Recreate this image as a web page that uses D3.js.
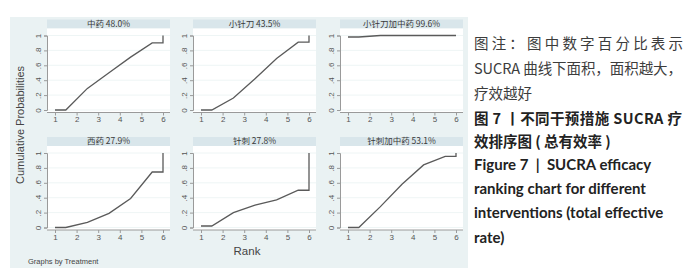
<!DOCTYPE html>
<html lang="zh">
<head>
    <meta charset="UTF-8" />
    <script src="https://d3js.org/d3.v7.min.js"></script>
    <title>SUCRA ranking chart</title>
    <style>
        body { margin: 0; background: #ffffff; }
    </style>
</head>
<body>
    <script>
        // panels, in reading order
        var treatments = ["中药", "小针刀", "小针刀加中药", "西药", "针刺", "针刺加中药"];
        var sucraLabels = ["48.0%", "43.5%", "99.6%", "27.9%", "27.8%", "53.1%"];

        // vertices of each cumulative curve (x = rank position)
        var rankX = [1, 1.5, 2.5, 3.5, 4.5, 5.5, 6, 6];
        var cumZhongyao = [0, 0, 0.29, 0.50, 0.71, 0.90, 0.90, 1];
        var cumXiaozhendao = [0, 0, 0.16, 0.42, 0.69, 0.91, 0.91, 1];
        var cumXiaozhendaoZhongyao = [0.98, 0.98, 1, 1, 1, 1, 1, 1];
        var cumXiyao = [0, 0, 0.07, 0.19, 0.39, 0.745, 0.745, 1];
        var cumZhenci = [0.02, 0.02, 0.20, 0.30, 0.37, 0.50, 0.50, 1];
        var cumZhenciZhongyao = [0, 0, 0.28, 0.58, 0.84, 0.955, 0.955, 1];
        var curves = [cumZhongyao, cumXiaozhendao, cumXiaozhendaoZhongyao, cumXiyao, cumZhenci, cumZhenciZhongyao];

        var rankTicks = [1, 2, 3, 4, 5, 6];
        var probTicks = [0, 0.2, 0.4, 0.6, 0.8, 1];
        var probLabels = ["0", ".2", ".4", ".6", ".8", "1"];

        var noteLines = ["图注：图中数字百分比表示", "SUCRA 曲线下面积，面积越大，", "疗效越好"];
        var titleZh = ["图 7 丨不同干预措施 SUCRA 疗", "效排序图 ( 总有效率 )"];
        var titleEn = ["Figure 7  |  SUCRA efficacy", "ranking chart for different", "interventions (total effective", "rate)"];

        var width = 700, height = 279;
        var latin = "'Liberation Sans', Arial, sans-serif";
        var cjk = "'Noto Sans CJK SC', sans-serif";

        var svg = d3.select("body").append("svg")
            .attr("width", width)
            .attr("height", height);

        // graph region
        svg.append("rect")
            .attr("x", 10).attr("y", 17)
            .attr("width", 458).attr("height", 251)
            .attr("fill", "#eaf2f3");

        var colLeft = [47, 193, 340];
        var rowTop = [19.5, 137];
        var plotW = 123, stripH = 9, plotH = 84;

        treatments.forEach(function (name, i) {
            var left = colLeft[i % 3];
            var top = rowTop[Math.floor(i / 3)];
            var pTop = top + stripH, pBottom = pTop + plotH;

            var x = d3.scaleLinear().domain([1, 6]).range([left + 8, left + 116]);
            var y = d3.scaleLinear().domain([0, 1]).range([pBottom - 2.5, pTop + 7]);

            var g = svg.append("g");

            // strip title
            g.append("rect")
                .attr("x", left).attr("y", top)
                .attr("width", plotW).attr("height", stripH)
                .attr("fill", "#d9e6eb");
            g.append("text")
                .attr("x", left + plotW / 2).attr("y", top + stripH / 2 + 0.5)
                .attr("text-anchor", "middle")
                .attr("dominant-baseline", "middle")
                .style("font-family", cjk)
                .style("font-size", "8.5px")
                .attr("fill", "#3a3a3a")
                .text(name + " " + sucraLabels[i]);

            // plot region
            g.append("rect")
                .attr("x", left).attr("y", pTop)
                .attr("width", plotW).attr("height", plotH)
                .attr("fill", "#ffffff");

            g.selectAll(".grid").data(probTicks).enter().append("line")
                .attr("x1", left).attr("x2", left + plotW)
                .attr("y1", function (d) { return y(d); })
                .attr("y2", function (d) { return y(d); })
                .attr("stroke", "#eaf2f3").attr("stroke-width", 0.8);

            // y axis
            var yAxis = d3.axisLeft(y).tickValues(probTicks).tickSize(3)
                .tickFormat(function (d, j) { return probLabels[j]; });
            var ya = g.append("g").attr("transform", "translate(" + left + ",0)").call(yAxis);
            ya.select(".domain").attr("stroke", "#9a9a9a");
            ya.selectAll(".tick line").attr("stroke", "#9a9a9a");
            ya.selectAll(".tick text")
                .attr("x", 0).attr("dy", null)
                .attr("text-anchor", "middle")
                .attr("transform", "translate(-8,0) rotate(-90)")
                .attr("dominant-baseline", "middle")
                .style("font-family", latin).style("font-size", "8px").attr("fill", "#555");

            // x axis
            var xAxis = d3.axisBottom(x).tickValues(rankTicks).tickSize(3).tickSizeOuter(0)
                .tickFormat(d3.format("d"));
            var xa = g.append("g").attr("transform", "translate(0," + pBottom + ")").call(xAxis);
            xa.select(".domain").attr("stroke", "#9a9a9a").attr("d", "M" + left + ",0H" + (left + plotW));
            xa.selectAll(".tick line").attr("stroke", "#9a9a9a");
            xa.selectAll(".tick text").attr("y", 4).attr("dy", "0.71em")
                .style("font-family", latin).style("font-size", "8px").attr("fill", "#555");

            // curve
            var line = d3.line()
                .x(function (d, j) { return x(rankX[j]); })
                .y(function (d) { return y(d); });
            g.append("path")
                .datum(curves[i])
                .attr("d", line)
                .attr("fill", "none")
                .attr("stroke", "#5a5a5a")
                .attr("stroke-width", 1.3);
        });

        // axis titles
        svg.append("text")
            .attr("transform", "translate(21,125) rotate(-90)")
            .attr("text-anchor", "middle")
            .attr("dominant-baseline", "middle")
            .style("font-family", latin).style("font-size", "11px")
            .attr("fill", "#444")
            .text("Cumulative Probabilities");

        svg.append("text")
            .attr("x", 247).attr("y", 252)
            .attr("text-anchor", "middle")
            .attr("dominant-baseline", "middle")
            .style("font-family", latin).style("font-size", "11.5px")
            .attr("fill", "#444")
            .text("Rank");

        svg.append("text")
            .attr("x", 28).attr("y", 262)
            .attr("dominant-baseline", "middle")
            .style("font-family", latin).style("font-size", "7.5px")
            .attr("fill", "#444")
            .text("Graphs by Treatment");

        // caption on the right
        var cap = svg.append("g").attr("transform", "translate(474,0)");
        var noteY = [45, 70, 95], noteLen = [209, 208, null];
        noteLines.forEach(function (t, i) {
            var tx = cap.append("text")
                .attr("x", 0).attr("y", noteY[i])
                .attr("dominant-baseline", "middle")
                .style("font-family", cjk).style("font-size", "14.5px")
                .attr("fill", "#3c3c3c")
                .text(t);
            if (noteLen[i]) tx.attr("textLength", noteLen[i]).attr("lengthAdjust", "spacing");
        });

        var zhY = [120, 143], zhLen = [208, null];
        titleZh.forEach(function (t, i) {
            var tx = cap.append("text")
                .attr("x", 0).attr("y", zhY[i])
                .attr("dominant-baseline", "middle")
                .style("font-family", cjk).style("font-size", "14.5px")
                .style("font-weight", "bold")
                .attr("fill", "#222")
                .text(t);
            if (zhLen[i]) tx.attr("textLength", zhLen[i]).attr("lengthAdjust", "spacing");
        });

        var enY = [166, 190, 214, 239];
        titleEn.forEach(function (t, i) {
            cap.append("text")
                .attr("x", 0).attr("y", enY[i])
                .attr("dominant-baseline", "middle")
                .style("font-family", "Lato, sans-serif").style("font-size", "15px")
                .style("font-weight", "bold")
                .style("white-space", "pre")
                .attr("fill", "#222")
                .text(t);
        });
    </script>
</body>
</html>
